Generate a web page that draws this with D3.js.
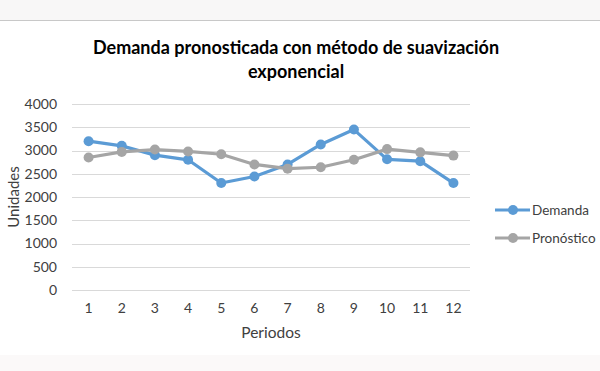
<!DOCTYPE html>
<html>
<head>
<meta charset="utf-8">
<script src="https://cdn.jsdelivr.net/npm/d3@7"></script>
<style>
  body { margin: 0; background: #fff; }
  text { font-family: Lato, "Open Sans", sans-serif; fill: #404040; }
</style>
</head>
<body>
<div id="chart"></div>
<script>
// Chart data
const periods = [1, 2, 3, 4, 5, 6, 7, 8, 9, 10, 11, 12];
const demanda = [3200, 3100, 2900, 2800, 2300, 2440, 2700, 3130, 3450, 2810, 2770, 2300];
const pronostico = [2850, 2970, 3020, 2980, 2920, 2700, 2610, 2640, 2800, 3030, 2960, 2890];
const yTicks = [0, 500, 1000, 1500, 2000, 2500, 3000, 3500, 4000];
const seriesNames = ["Demanda", "Pronóstico"];
const colors = ["#5B9BD5", "#A5A5A5"];

const W = 600, H = 371;
const margin = { top: 104, right: 130, bottom: 81, left: 72 };
const width = W - margin.left - margin.right;
const height = H - margin.top - margin.bottom;

const svg = d3.select("#chart")
  .append("svg")
    .attr("width", W)
    .attr("height", H);

// page bands from the screenshot
svg.append("rect").attr("x", 0).attr("y", 0).attr("width", W).attr("height", 20).attr("fill", "#f8f7f7");
svg.append("line").attr("x1", 0).attr("x2", W).attr("y1", 20.5).attr("y2", 20.5).attr("stroke", "#c8c8c8");
svg.append("rect").attr("x", 0).attr("y", 355).attr("width", W).attr("height", H - 355).attr("fill", "#fbf9f9");

// title
const title = svg.append("text")
  .attr("text-anchor", "middle")
  .style("font-weight", "bold")
  .style("font-size", "18px")
  .style("fill", "#000");
title.append("tspan").attr("x", 296).attr("y", 54).text("Demanda pronosticada con método de suavización");
title.append("tspan").attr("x", 296).attr("y", 78).text("exponencial");

const g = svg.append("g")
  .attr("transform", `translate(${margin.left},${margin.top})`);

const x = d3.scaleBand()
  .domain(periods)
  .range([0, width]);

const y = d3.scaleLinear()
  .domain([0, 4000])
  .range([height, 0]);

// gridlines
g.append("g")
  .selectAll("line")
  .data(yTicks)
  .join("line")
    .attr("x1", 0)
    .attr("x2", width)
    .attr("y1", d => Math.round(y(d)) + 0.5)
    .attr("y2", d => Math.round(y(d)) + 0.5)
    .attr("stroke", "#d9d9d9")
    .attr("stroke-width", 1);

// y axis
const yAxis = g.append("g")
  .call(d3.axisLeft(y).tickValues(yTicks).tickFormat(d3.format("d")).tickSize(0).tickPadding(15));
yAxis.select(".domain").remove();
yAxis.selectAll("text").style("font-size", "14px");

// x axis
const xAxis = g.append("g")
  .attr("transform", `translate(0,${height})`)
  .call(d3.axisBottom(x).tickSize(0).tickPadding(13));
xAxis.select(".domain").remove();
xAxis.selectAll("text").style("font-size", "14px");

// axis titles
svg.append("text")
  .attr("x", margin.left + width / 2)
  .attr("y", 338)
  .attr("text-anchor", "middle")
  .style("font-size", "15.5px")
  .text("Periodos");

svg.append("text")
  .attr("transform", "translate(19,197) rotate(-90)")
  .attr("text-anchor", "middle")
  .style("font-size", "15px")
  .text("Unidades");

// series
const line = d3.line()
  .x((d, i) => x(periods[i]) + x.bandwidth() / 2)
  .y(d => y(d));

[demanda, pronostico].forEach((values, s) => {
  g.append("path")
    .datum(values)
    .attr("fill", "none")
    .attr("stroke", colors[s])
    .attr("stroke-width", 3.2)
    .attr("stroke-linejoin", "round")
    .attr("d", line);

  g.append("g")
    .selectAll("circle")
    .data(values)
    .join("circle")
      .attr("cx", (d, i) => x(periods[i]) + x.bandwidth() / 2)
      .attr("cy", d => y(d))
      .attr("r", 5)
      .attr("fill", colors[s]);
});

// legend
const legend = svg.append("g")
  .selectAll("g")
  .data(seriesNames)
  .join("g")
    .attr("transform", (d, i) => `translate(495,${210 + i * 28})`);

legend.append("line")
  .attr("x1", 0).attr("x2", 35)
  .attr("stroke", (d, i) => colors[i])
  .attr("stroke-width", 3.2);
legend.append("circle")
  .attr("cx", 18).attr("r", 5)
  .attr("fill", (d, i) => colors[i]);
legend.append("text")
  .attr("x", 37)
  .attr("dy", "0.35em")
  .style("font-size", "13.5px")
  .text(d => d);
</script>
</body>
</html>
